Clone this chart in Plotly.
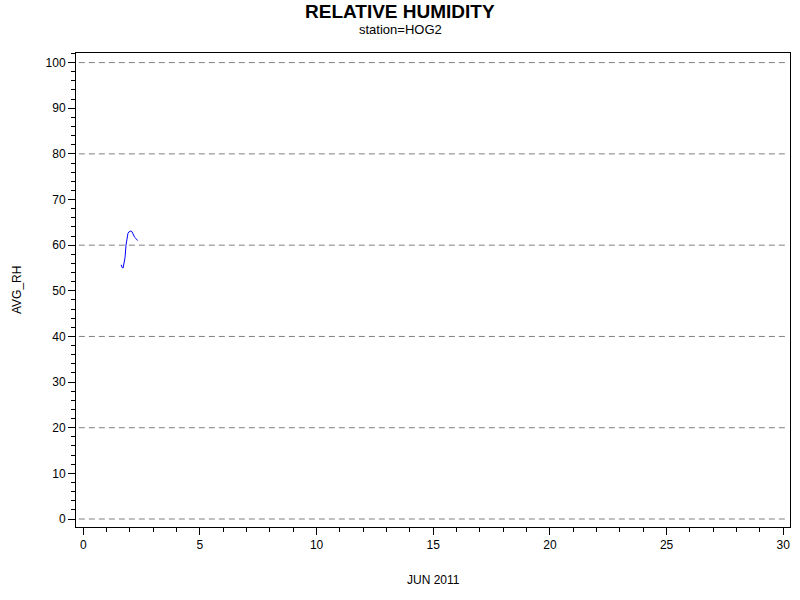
import plotly.graph_objects as go

# hourly relative humidity, station HOG2, June 2011 (x = day of month)
days = [1.625 + k / 24 for k in range(18)]
avg_rh = [55.7, 55.1, 55.0, 56.0, 57.3, 60.0, 61.6, 62.6, 62.9,
          63.1, 63.1, 63.0, 62.4, 62.0, 61.7, 61.5, 61.2, 61.0]

grid_levels = [0, 20, 40, 60, 80, 100]
font = "Liberation Sans, Arial, sans-serif"

fig = go.Figure()
fig.add_trace(go.Scatter(x=days, y=avg_rh, mode="lines",
                         line=dict(color="#0000FF", width=1),
                         showlegend=False))

# reference lines only every 20
for g in grid_levels:
    fig.add_shape(type="line", xref="paper", x0=0.004, x1=0.994, y0=g, y1=g,
                  line=dict(color="#808080", width=1, dash="6px,4px"),
                  layer="below")

# titles placed as annotations so the margins stay fixed
texts = [
    dict(text="<b>RELATIVE HUMIDITY</b>", x=0.4538, y=1.0876, size=19, angle=0),
    dict(text="station=HOG2", x=0.4538, y=1.0506, size=13, angle=0),
    dict(text="JUN 2011", x=0.5, y=-0.1118, size=12, angle=0),
    dict(text="AVG_RH", x=-0.0826, y=0.5, size=12, angle=-90),
]
for t in texts:
    fig.add_annotation(text=t["text"], x=t["x"], y=t["y"], xref="paper", yref="paper",
                       xanchor="center", yanchor="middle", showarrow=False,
                       textangle=t["angle"], font=dict(family=font, size=t["size"], color="black"))

fig.update_layout(
    width=800, height=600,
    margin=dict(l=76, r=10, t=53, b=73, autoexpand=False),
    paper_bgcolor="white", plot_bgcolor="white",
    font=dict(family=font, size=12, color="black"),
)

fig.update_xaxes(
    range=[-0.31, 30.29], tickmode="linear", tick0=0, dtick=5,
    ticks="outside", ticklen=7, tickcolor="black",
    minor=dict(ticks="outside", ticklen=4, dtick=1, tickcolor="black", showgrid=False),
    showgrid=False, zeroline=False, automargin=False,
    showline=True, linecolor="black", linewidth=1, mirror=True,
)
fig.update_yaxes(
    range=[-1.75, 102.1], tickmode="linear", tick0=0, dtick=10,
    ticks="outside", ticklen=7, tickcolor="black",
    minor=dict(ticks="outside", ticklen=4, dtick=2, tickcolor="black", showgrid=False),
    showgrid=False, zeroline=False, automargin=False,
    showline=True, linecolor="black", linewidth=1, mirror=True,
)

# drop the page's default 8px body margin so the figure fills the window
fig.write_html("out.html", config={"displayModeBar": False},
               post_script="document.body.style.margin='0';")
